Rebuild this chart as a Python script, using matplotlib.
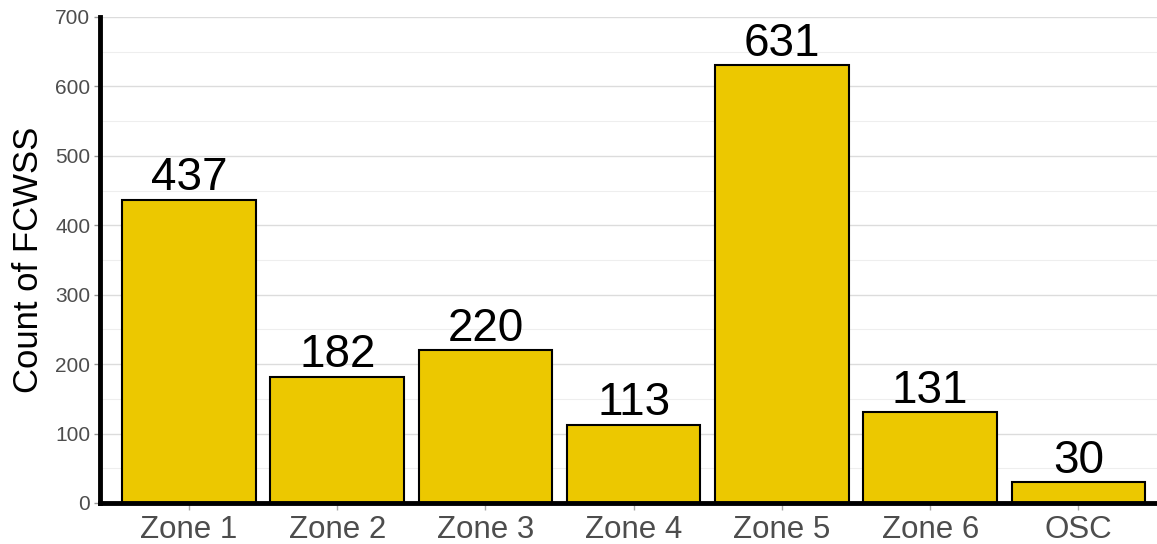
import matplotlib.pyplot as plt
from matplotlib.ticker import MultipleLocator

zones = ["Zone 1", "Zone 2", "Zone 3", "Zone 4", "Zone 5", "Zone 6", "OSC"]
counts = [437, 182, 220, 113, 631, 131, 30]

plt.rcParams['font.family'] = ['Liberation Sans', 'DejaVu Sans']

fig = plt.figure(figsize=(11.57, 5.44), dpi=100)
ax = fig.add_axes([100 / 1157, 41 / 544, 1057 / 1157, 486 / 544])

x = range(len(zones))
ax.bar(x, counts, width=0.9, color="#ecc800", edgecolor="black", linewidth=1.5, zorder=3)

for i, v in enumerate(counts):
    ax.annotate(str(v), (i, v), xytext=(0, -0.5), textcoords="offset points",
                ha="center", va="bottom", fontsize=33, color="black", zorder=4)

ax.set_xlim(-0.6, 6.53)
ax.set_ylim(0, 700)
ax.set_xticks(list(x))
ax.set_xticklabels(zones, fontsize=22.5, color="#4d4d4d")
ax.yaxis.set_major_locator(MultipleLocator(100))
ax.yaxis.set_minor_locator(MultipleLocator(50))
ax.tick_params(axis="y", labelsize=15, labelcolor="#4d4d4d", color="#999999", length=4, width=1, pad=3)
ax.tick_params(axis="y", which="minor", length=0)
ax.tick_params(axis="x", color="#aaaaaa", length=5, width=1, pad=4)

ax.grid(axis="y", which="major", color="#dcdcdc", linewidth=1, zorder=0)
ax.grid(axis="y", which="minor", color="#eeeeee", linewidth=0.8, zorder=0)

for s in ["top", "right"]:
    ax.spines[s].set_visible(False)
ax.spines["left"].set_linewidth(3.5)
ax.spines["bottom"].set_linewidth(3.5)
ax.spines["left"].set_zorder(5)
ax.spines["bottom"].set_zorder(5)

ax.set_ylabel("Count of FCWSS", fontsize=25, color="black", labelpad=7)

fig.savefig("out.png", dpi=100)
